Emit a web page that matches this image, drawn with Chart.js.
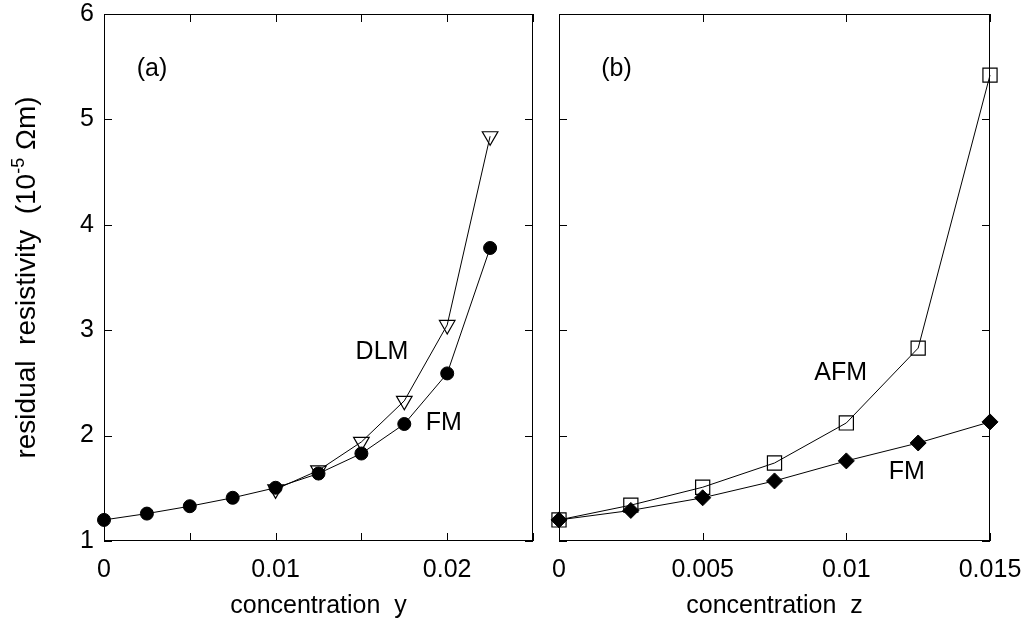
<!DOCTYPE html>
<html>
<head>
<meta charset="utf-8">
<script src="https://cdn.jsdelivr.net/npm/chart.js@4.4.1/dist/chart.umd.min.js"></script>
<style>
  html, body { margin: 0; padding: 0; background: #fff; }
  #wrap { position: relative; width: 1029px; height: 632px; }
  canvas { position: absolute; top: 0; }
  #left { left: 0; }
  #right { left: 545px; }
</style>
</head>
<body>
<div id="wrap">
  <canvas id="left" width="545" height="632"></canvas>
  <canvas id="right" width="484" height="632"></canvas>
</div>
<script>
// panel (a): resistivity vs concentration y
const yConc = [0, 0.0025, 0.005, 0.0075, 0.01, 0.0125, 0.015, 0.0175, 0.02, 0.0225];
const fmA = [1.20, 1.26, 1.33, 1.41, 1.505, 1.64, 1.83, 2.11, 2.59, 3.78];
const dlmConc = [0.01, 0.0125, 0.015, 0.0175, 0.02, 0.0225];
const dlmA = [1.49, 1.67, 1.94, 2.33, 3.05, 4.84];

// panel (b): resistivity vs concentration z
const zConc = [0, 0.0025, 0.005, 0.0075, 0.01, 0.0125, 0.015];
const fmB = [1.20, 1.29, 1.41, 1.57, 1.76, 1.93, 2.13];
const afmB = [1.20, 1.34, 1.51, 1.74, 2.12, 2.83, 5.42];

// text labels inside the panels (data coords)
const labelsA = [
  { text: '(a)', x: 0.0028, y: 5.48 },
  { text: 'DLM', x: 0.0162, y: 2.79 },
  { text: 'FM', x: 0.0198, y: 2.12 },
];
const labelsB = [
  { text: '(b)', x: 0.0020, y: 5.48 },
  { text: 'AFM', x: 0.0098, y: 2.59 },
  { text: 'FM', x: 0.0121, y: 1.65 },
];

const FONT = '"Liberation Sans", Arial, Helvetica, sans-serif';
Chart.defaults.font.family = FONT;
Chart.defaults.color = '#000';

const pts = (xs, ys) => xs.map((x, i) => ({ x, y: ys[i] }));
const fmt = v => String(+v.toFixed(3));

// frame, inward ticks and in-plot labels
const framePlugin = {
  id: 'frame',
  beforeDatasetsDraw(chart) {
    const { ctx, chartArea: a, scales } = chart;
    const len = 8;
    ctx.save();
    ctx.strokeStyle = '#000';
    ctx.lineWidth = 1;
    ctx.strokeRect(a.left + 0.5, a.top + 0.5, a.right - a.left - 1, a.bottom - a.top - 1);
    ctx.beginPath();
    scales.x.ticks.forEach(t => {
      const px = Math.round(scales.x.getPixelForValue(t.value)) + 0.5;
      ctx.moveTo(px, a.bottom); ctx.lineTo(px, a.bottom - len);
      ctx.moveTo(px, a.top); ctx.lineTo(px, a.top + len);
    });
    scales.y.ticks.forEach(t => {
      const py = Math.round(scales.y.getPixelForValue(t.value)) + 0.5;
      ctx.moveTo(a.left, py); ctx.lineTo(a.left + len, py);
      ctx.moveTo(a.right, py); ctx.lineTo(a.right - len, py);
    });
    ctx.stroke();
    ctx.restore();
  },
  afterDraw(chart, args, opts) {
    const { ctx, scales } = chart;
    ctx.save();
    ctx.fillStyle = '#000';
    ctx.font = '25px ' + FONT;
    ctx.textAlign = 'center';
    ctx.textBaseline = 'middle';
    (opts.labels || []).forEach(l => {
      ctx.fillText(l.text, scales.x.getPixelForValue(l.x), scales.y.getPixelForValue(l.y));
    });
    ctx.restore();
  }
};

// rotated y title with a superscript exponent
const yTitlePlugin = {
  id: 'yTitle',
  afterDraw(chart) {
    const { ctx, chartArea: a } = chart;
    const parts = [
      ['residual  resistivity  (10', '28px ' + FONT, 0],
      ['-5', '18px ' + FONT, -11],
      [' \u03A9m)', '28px ' + FONT, 0],
    ];
    ctx.save();
    ctx.translate(35, (a.top + a.bottom) / 2);
    ctx.rotate(-Math.PI / 2);
    ctx.fillStyle = '#000';
    ctx.textBaseline = 'alphabetic';
    let total = 0;
    parts.forEach(p => { ctx.font = p[1]; total += ctx.measureText(p[0]).width; });
    let x = -total / 2;
    parts.forEach(p => {
      ctx.font = p[1];
      ctx.fillText(p[0], x, p[2]);
      x += ctx.measureText(p[0]).width;
    });
    ctx.restore();
  }
};

function xScale(max, title, cb) {
  return {
    type: 'linear', min: 0, max: max,
    grid: { display: false, drawTicks: false },
    border: { display: false },
    ticks: { stepSize: 0.005, autoSkip: false, maxRotation: 0, padding: 14,
             font: { size: 25 }, callback: cb },
    title: { display: true, text: title, font: { size: 25 }, padding: { top: 0, bottom: 11 } },
    afterFit: s => { s.height = 91; s.paddingLeft = 0; s.paddingRight = 0; }
  };
}

function yScale(showLabels, width) {
  return {
    type: 'linear', min: 1, max: 6,
    grid: { display: false, drawTicks: false },
    border: { display: false },
    ticks: { stepSize: 1, display: showLabels, padding: 10, font: { size: 25 } },
    afterFit: s => { s.width = width; s.paddingTop = 0; s.paddingBottom = 0; }
  };
}

const commonOpts = {
  responsive: false,
  animation: false,
  events: [],
  plugins: { legend: { display: false }, tooltip: { enabled: false } },
};

new Chart(document.getElementById('left'), {
  type: 'scatter',
  data: {
    datasets: [
      {
        label: 'FM', data: pts(yConc, fmA), showLine: true, clip: false,
        borderColor: '#000', borderWidth: 1,
        pointStyle: 'circle', pointRadius: 6.5,
        pointBackgroundColor: '#000', pointBorderColor: '#000', pointBorderWidth: 1
      },
      {
        label: 'DLM', data: pts(dlmConc, dlmA), showLine: true, clip: false,
        borderColor: '#000', borderWidth: 1,
        pointStyle: 'triangle', pointRotation: 180, pointRadius: 9,
        pointBackgroundColor: 'rgba(0,0,0,0)', pointBorderColor: '#000', pointBorderWidth: 1.2
      }
    ]
  },
  options: {
    ...commonOpts,
    layout: { padding: { top: 14, right: 12, left: 0, bottom: 0 } },
    scales: {
      x: xScale(0.025, 'concentration  y', v => (Math.round(v / 0.005) % 2 === 0 ? fmt(v) : '')),
      y: yScale(true, 104)
    },
    plugins: { ...commonOpts.plugins, frame: { labels: labelsA } }
  },
  plugins: [framePlugin, yTitlePlugin]
});

new Chart(document.getElementById('right'), {
  type: 'scatter',
  data: {
    datasets: [
      {
        label: 'FM', data: pts(zConc, fmB), showLine: true, clip: false,
        borderColor: '#000', borderWidth: 1,
        pointStyle: 'rectRot', pointRadius: 8,
        pointBackgroundColor: '#000', pointBorderColor: '#000', pointBorderWidth: 1
      },
      {
        label: 'AFM', data: pts(zConc, afmB), showLine: true, clip: false,
        borderColor: '#000', borderWidth: 1,
        pointStyle: 'rect', pointRadius: 10,
        pointBackgroundColor: 'rgba(0,0,0,0)', pointBorderColor: '#000', pointBorderWidth: 1.2
      }
    ]
  },
  options: {
    ...commonOpts,
    layout: { padding: { top: 14, right: 39, left: 0, bottom: 0 } },
    scales: {
      x: xScale(0.015, 'concentration  z', v => fmt(v)),
      y: yScale(false, 14)
    },
    plugins: { ...commonOpts.plugins, frame: { labels: labelsB } }
  },
  plugins: [framePlugin]
});
</script>
</body>
</html>
